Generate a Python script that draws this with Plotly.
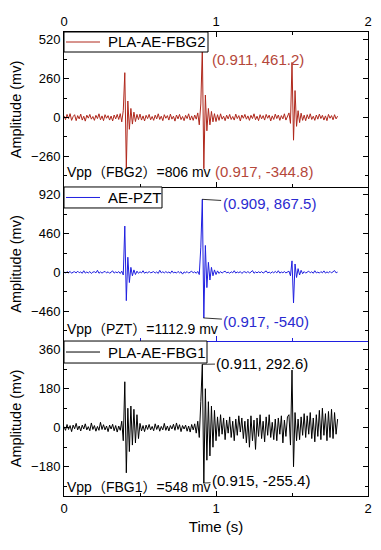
import plotly.graph_objects as go

# ---------------- data (sampled every 0.01 s, 0 .. 1.80 s) ----------------
sample_step = 0.01

fbg2_mv = [
    10, -15, 20, -8, 25, -20, 5, 18, -22, 12,
    -10, 22, -18, 8, -25, 15, -5, 20, -12, 6,
    -20, 14, -8, 24, -16, 10, -22, 18, -6, 12,
    -18, 9, -24, 16, -10, 20, -14, 25, -30, 45,
    300, -340, 110, -80, 60, -45, 35, -28, 20, -15,
    22, -18, 10, -24, 14, -8, 20, -16, 6, -20,
    15, -10, 24, -14, 8, -22, 18, -6, 12, -18,
    22, -12, 8, -25, 16, -10, 20, -15, 6, -22,
    14, -8, 24, -18, 10, -20, 16, -12, 30, -50,
    90, 461.2, -344.8, 150, -90, 60, -50, 40, -30, 25,
    -28, 18, -20, 24, -12, 8, -22, 15, -10, 20,
    -14, 6, -18, 22, -8, 12, -24, 16, -6, 20,
    -12, 10, -20, 14, -8, 24, -16, 8, -22, 18,
    -10, 12, -18, 20, -6, 15, -24, 10, -14, 22,
    -8, 16, -20, 12, -10, 24, -18, 8, 30, -40,
    369, -153, 180, -60, 45, -35, 28, -20, 15, -22,
    18, -10, 24, -14, 8, -20, 16, -12, 22, -8,
    14, -18, 10, -22, 20, -6, 12, -16, 18, -10, 8,
]

pzt_mv = [
    5, -8, 10, -5, 12, -10, 4, 8, -6, 15,
    -4, 6, -10, 20, -8, 5, -6, 10, -12, 4,
    8, -5, 25, -10, 6, -8, 4, 12, -6, 8,
    -10, 5, 18, -8, 6, -4, 10, -12, 15, -30,
    550, -335, 180, -120, 60, -40, 30, -25, 15, -10,
    8, -6, 20, -10, 5, -8, 12, -6, 4, 10,
    -8, 6, -12, 25, -5, 8, -6, 10, -4, 6,
    -10, 18, -6, 4, -8, 12, -5, 8, -20, 6,
    -4, 10, -8, 5, 15, -6, 8, -10, 12, -25,
    300, 867.5, -540, 320, -180, 120, -90, 60, -40, 30,
    -25, 18, -12, 10, -8, 6, 15, -6, 4, -10,
    8, -5, 20, -8, 6, -4, 10, -12, 5, 8,
    -6, 12, -8, 4, 22, -10, 6, -5, 8, -4,
    10, -8, 5, 18, -6, 4, -10, 8, -5, 12,
    -6, 20, -8, 5, -4, 10, -6, 8, 15, -40,
    137, -362, 100, -60, 45, -30, 25, -15, 10, -8,
    6, 15, -5, 8, -10, 20, -6, 4, -8, 10,
    -5, 18, -8, 6, -4, 12, -6, 8, 22, -5, 4,
]

fbg1_mv = [
    5, -12, 15, -8, 10, -18, 12, -5, 20, -10,
    8, -15, 12, -6, 18, -10, 5, -14, 22, -8,
    10, -16, 6, -12, 25, -8, 14, -10, 8, -18,
    12, -6, 16, -14, 10, -20, 8, -12, 30, -60,
    212, -208, 90, -110, 100, -80, 85, -70, 60, -50,
    20, -15, 10, -18, 12, -8, 15, -10, 6, -14,
    18, -8, 12, -16, 6, -10, 20, -12, 8, -15,
    10, -6, 16, -12, 22, -8, 14, -18, 10, -6,
    12, -16, 8, -20, 15, -10, 18, -25, 30, -45,
    120, 292.6, -255.4, 180, -150, 120, -130, 100, -90, 80,
    -60, 50, -40, 60, -30, 45, -55, 35, -25, 50,
    -45, 30, -60, 40, -35, 55, -20, 45, -50, 30,
    -70, 40, -90, 55, -60, 35, -100, 45, -40, 60,
    -50, 30, -65, 50, -35, 60, -45, 25, -55, 40,
    -60, 45, -30, 55, -70, 35, -40, 50, 60, -80,
    266, -180, 70, -60, 40, -55, 50, -35, 65, -45,
    55, -30, 70, -50, 45, -65, 60, -40, 80, -55,
    90, -35, 65, -60, 75, -45, 85, -50, 70, -30, 40,
]

time_s = [round(i * sample_step, 2) for i in range(len(fbg2_mv))]

series_names = ["PLA-AE-FBG2", "AE-PZT", "PLA-AE-FBG1"]
vpp_labels = ["Vpp（FBG2）=806 mv", "Vpp（PZT）=1112.9 mv", "Vpp（FBG1）=548 mv"]
peak_points = [[(0.911, 461.2), (0.917, -344.8)],
               [(0.909, 867.5), (0.917, -540)],
               [(0.911, 292.6), (0.915, -255.4)]]

y_ranges = [[-467, 573], [-814, 1014], [-315, 400]]
y_dticks = [260, 460, 180]
x_ticks = [0, 1, 2]

# ---------------- styling ----------------
FONT = "Liberation Sans, Arial, Noto Sans CJK SC, sans-serif"
line_colors = ["#B0281C", "#1F1FE0", "#000000"]
text_colors = ["#B5473A", "#2A2AD0", "#000000"]
domains = [[0.666, 1.0], [0.334, 0.666], [0.0, 0.334]]
legend_box_w = [144, 98, 143]   # px
legend_box_h = [20, 21, 22]     # px

fig = go.Figure()
data = [fbg2_mv, pzt_mv, fbg1_mv]
for i in range(3):
    fig.add_trace(go.Scatter(
        x=time_s, y=data[i], mode="lines", name=series_names[i],
        line=dict(color=line_colors[i], width=1),
        xaxis="x" if i == 0 else f"x{i+1}",
        yaxis="y" if i == 0 else f"y{i+1}",
        showlegend=False,
    ))

layout = dict(
    width=381, height=550,
    margin=dict(l=64, r=13, t=32, b=54),
    paper_bgcolor="white", plot_bgcolor="white",
    font=dict(family=FONT, size=13, color="black"),
    showlegend=False,
)

for i in range(3):
    sfx = "" if i == 0 else str(i + 1)
    xa = dict(
        domain=[0, 1], anchor=f"y{sfx}", range=[0, 2], automargin=False,
        showgrid=False, zeroline=False, showline=True,
        linecolor="black", linewidth=1,
        tickmode="array", tickvals=x_ticks,
        ticks="inside", ticklen=5, tickcolor="black",
        minor=dict(ticks="inside", ticklen=3, dtick=0.5, tick0=0, tickcolor="black"),
        tickfont=dict(size=13, family=FONT),
    )
    if i == 0:
        xa.update(side="top", showticklabels=True, mirror="ticks")
    elif i == 1:
        xa.update(matches="x", showticklabels=False, mirror=False,
                  linecolor=line_colors[1], tickcolor=line_colors[1])
        xa["minor"]["tickcolor"] = line_colors[1]
    else:
        xa.update(matches="x", showticklabels=True, mirror=False,
                  title=dict(text="Time (s)", font=dict(size=15, family=FONT), standoff=6))
    layout[f"xaxis{sfx}"] = xa

    layout[f"yaxis{sfx}"] = dict(
        domain=domains[i], anchor=f"x{sfx}", range=y_ranges[i], automargin=False,
        showgrid=False, zeroline=False, showline=True,
        linecolor="black", linewidth=1, mirror="ticks",
        tick0=0, dtick=y_dticks[i],
        ticks="inside", ticklen=5, tickcolor="black",
        minor=dict(ticks="inside", ticklen=3, dtick=y_dticks[i] / 2, tick0=0,
                   tickcolor="black"),
        tickfont=dict(size=13, family=FONT),
        title=dict(text="Amplitude (mv)", font=dict(size=14.5, family=FONT), standoff=6),
    )

fig.update_layout(**layout)

# ---------------- legend boxes (drawn by hand for the compact frame) ----------------
shapes = []
annotations = []
for i in range(3):
    sfx = "" if i == 0 else str(i + 1)
    xr = f"x{sfx} domain"
    yr = f"y{sfx} domain"
    h = legend_box_h[i]
    shapes.append(dict(type="rect", xref=xr, yref=yr, xsizemode="pixel", ysizemode="pixel",
                       xanchor=0, yanchor=1, x0=0, x1=legend_box_w[i], y0=0, y1=-h,
                       fillcolor="white", line=dict(color="black", width=1), layer="above"))
    shapes.append(dict(type="line", xref=xr, yref=yr, xsizemode="pixel", ysizemode="pixel",
                       xanchor=0, yanchor=1, x0=2, x1=36, y0=-h / 2, y1=-h / 2,
                       line=dict(color=line_colors[i], width=1), layer="above"))
    annotations.append(dict(x=42 / 304, y=1 - (h / 2) / 155, xref=xr, yref=yr,
                            xanchor="left", yanchor="middle", text=series_names[i],
                            showarrow=False, font=dict(size=15, family=FONT, color="black")))

# panel 1: plain text labels
annotations.append(dict(x=0.960, y=387, xref="x", yref="y", xanchor="left", yanchor="middle",
                        text="(%.3f, %.1f)" % peak_points[0][0], showarrow=False,
                        font=dict(size=15, color=text_colors[0], family=FONT)))
annotations.append(dict(x=0.978, y=-362, xref="x", yref="y", xanchor="left", yanchor="middle",
                        text="(%.3f, %.1f)" % peak_points[0][1], showarrow=False,
                        font=dict(size=15, color=text_colors[0], family=FONT)))
# panel 2: with connector lines
annotations.append(dict(x=peak_points[1][0][0], y=peak_points[1][0][1], xref="x2", yref="y2",
                        text="(0.909, 867.5)", showarrow=True, arrowhead=0, arrowwidth=0.8,
                        arrowcolor="black", ax=67, ay=4,
                        font=dict(size=15, color=text_colors[1], family=FONT)))
annotations.append(dict(x=peak_points[1][1][0], y=peak_points[1][1][1], xref="x2", yref="y2",
                        text="(0.917, -540)", showarrow=True, arrowhead=0, arrowwidth=0.8,
                        arrowcolor="black", ax=63, ay=4,
                        font=dict(size=15, color=text_colors[1], family=FONT)))
# panel 3: with short connectors
annotations.append(dict(x=peak_points[2][0][0], y=peak_points[2][0][1], xref="x3", yref="y3",
                        text="(0.911, 292.6)", showarrow=True, arrowhead=0, arrowwidth=0.8,
                        arrowcolor="black", ax=60, ay=-1,
                        font=dict(size=15, color=text_colors[2], family=FONT)))
annotations.append(dict(x=peak_points[2][1][0], y=peak_points[2][1][1], xref="x3", yref="y3",
                        text="(0.915, -255.4)", showarrow=True, arrowhead=0, arrowwidth=0.8,
                        arrowcolor="black", ax=58, ay=-3,
                        font=dict(size=15, color=text_colors[2], family=FONT)))
# Vpp labels
vpp_pos = [(0.005, -366, "x", "y"), (0.005, -672, "x2", "y2"), (0.005, -273, "x3", "y3")]
for i in range(3):
    x, y, xr, yr = vpp_pos[i]
    annotations.append(dict(x=x, y=y, xref=xr, yref=yr, xanchor="left", yanchor="middle",
                            text=vpp_labels[i], showarrow=False,
                            font=dict(size=14, color="black", family=FONT)))

fig.update_layout(shapes=shapes, annotations=annotations)

fig.write_html("out.html", config={"displayModeBar": False},
               post_script="document.body.style.margin='0';document.body.style.padding='0';")
